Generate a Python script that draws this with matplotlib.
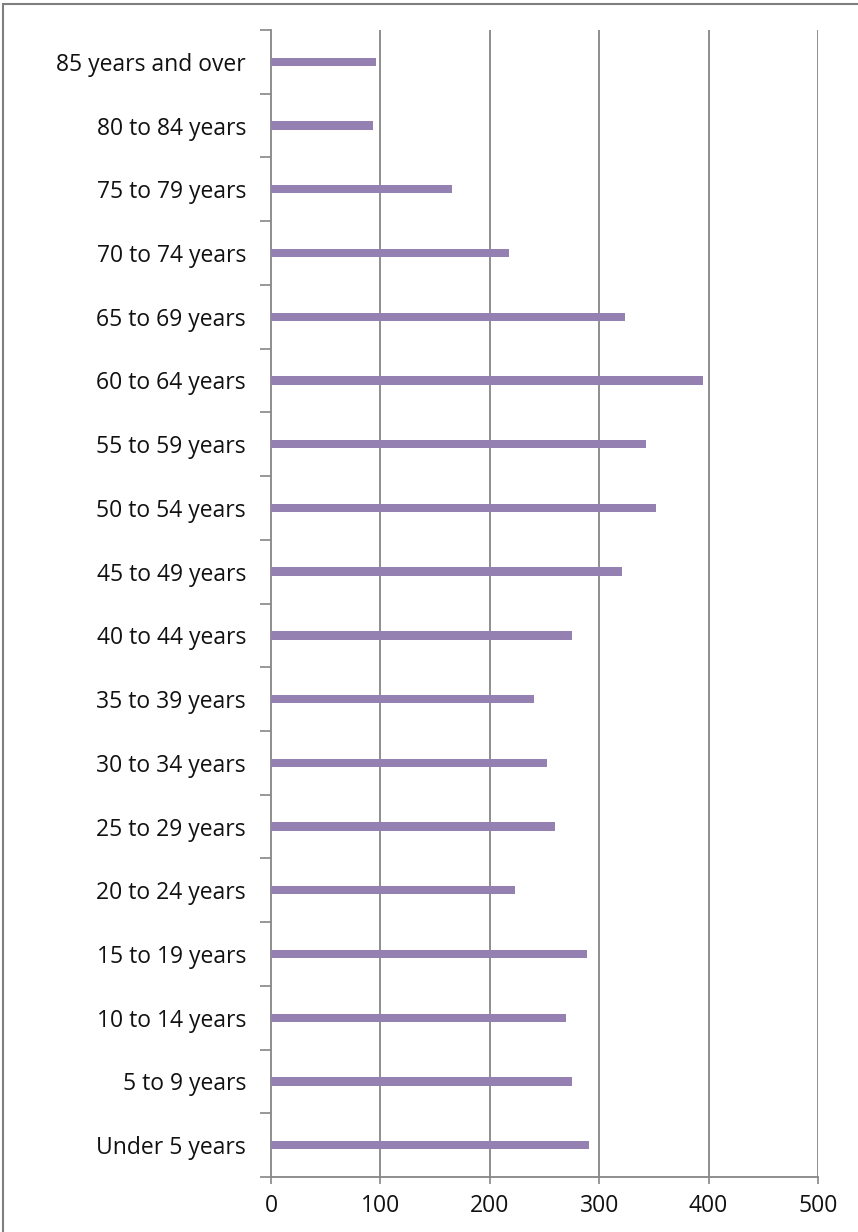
import matplotlib
matplotlib.use("Agg")
import matplotlib.pyplot as plt
from matplotlib.patches import Rectangle
import numpy as np

categories = ["Under 5 years", "5 to 9 years", "10 to 14 years", "15 to 19 years",
              "20 to 24 years", "25 to 29 years", "30 to 34 years", "35 to 39 years",
              "40 to 44 years", "45 to 49 years", "50 to 54 years", "55 to 59 years",
              "60 to 64 years", "65 to 69 years", "70 to 74 years", "75 to 79 years",
              "80 to 84 years", "85 years and over"]
values = [291, 275, 270, 289, 223, 260, 252, 240, 275, 321, 352, 343, 395, 324, 218, 165, 93, 96]
xticks = [0, 100, 200, 300, 400, 500]

plt.rcParams['font.family'] = ['Open Sans', 'DejaVu Sans']

fig = plt.figure(figsize=(8.58, 12.32), dpi=100)
ax = fig.add_axes([271/858, 1 - 1177/1232, (818 - 271)/858, (1177 - 30)/1232])

grid_c = '#868686'
bar_c = '#9581B1'

y = np.arange(len(categories))
ax.barh(y, values, height=0.13, color=bar_c, zorder=3)

ax.set_xlim(0, 500)
ax.set_ylim(-0.5, len(categories) - 0.5)
ax.set_xticks(xticks)
ax.set_xticklabels([str(t) for t in xticks], fontsize=16.5, color='#111111')
ax.set_yticks(y)
ax.set_yticklabels(categories, fontsize=16.5, color='#111111')
ax.set_yticks(np.arange(-0.5, len(categories), 1.0), minor=True)

ax.tick_params(axis='y', which='major', length=0, pad=18)
ax.tick_params(axis='y', which='minor', length=8, width=1.2, color=grid_c)
ax.tick_params(axis='x', which='major', length=5, width=1.2, color=grid_c, pad=7)

for t in xticks[1:]:
    ax.axvline(t, color=grid_c, lw=1.3, zorder=1)

for s in ['top', 'right']:
    ax.spines[s].set_visible(False)
for s in ['left', 'bottom']:
    ax.spines[s].set_color(grid_c)
    ax.spines[s].set_linewidth(1.3)

fig.patches.append(Rectangle((3/858, -0.01), 1.0, 1 - 4/1232 + 0.01, transform=fig.transFigure,
                             fill=False, edgecolor='#7f7f7f', lw=1.5))

fig.savefig("out.png", dpi=100)
